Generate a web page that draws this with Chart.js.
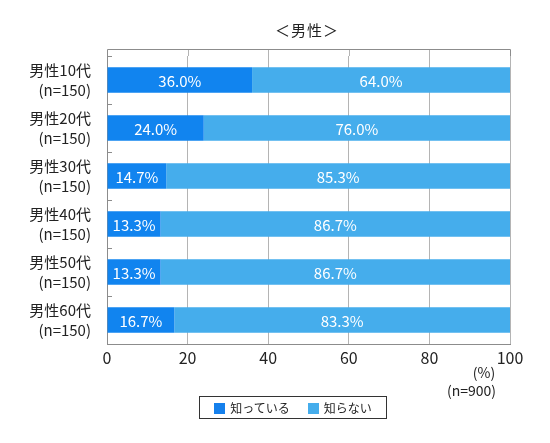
<!DOCTYPE html>
<html>
<head>
<meta charset="utf-8">
<script src="https://cdn.jsdelivr.net/npm/chart.js"></script>
<title>男性</title>
<style>
    body { margin: 0; background: #fff; font-family: "Noto Sans CJK JP", sans-serif; color: #222; }
    .wrap { position: relative; width: 550px; height: 443px; }
    .title { position: absolute; top: 19px; left: 0; width: 614px; text-align: center; font-size: 15px; letter-spacing: 1px; }
    .unit { position: absolute; top: 362px; left: 466px; width: 36px; text-align: center; font-size: 14px; }
    .base { position: absolute; top: 380px; right: 54px; font-size: 14px; }
    .legend { position: absolute; top: 396px; left: 199px; width: 186px; height: 21px; border: 1px solid #333;
              display: flex; justify-content: center; align-items: center; gap: 18px; font-size: 12px; }
    .legend span.sw { display: inline-block; width: 11px; height: 11px; margin-right: 5px; vertical-align: -1px; }
</style>
</head>
<body>
<div class="wrap">
    <canvas id="chart" width="550" height="443"></canvas>
    <div class="title">＜男性＞</div>
    <div class="unit">(%)</div>
    <div class="base">(n=900)</div>
    <div class="legend">
        <div><span class="sw" style="background:#1580ec"></span>知っている</div>
        <div><span class="sw" style="background:#45adec"></span>知らない</div>
    </div>
</div>

<script>
    // data
    var groups = ['男性10代', '男性20代', '男性30代', '男性40代', '男性50代', '男性60代'];
    var sampleSizes = ['(n=150)', '(n=150)', '(n=150)', '(n=150)', '(n=150)', '(n=150)'];
    var know = [36.0, 24.0, 14.7, 13.3, 13.3, 16.7];
    var dontKnow = [64.0, 76.0, 85.3, 86.7, 86.7, 83.3];
    var xTicks = [0, 20, 40, 60, 80, 100];

    var labels = groups.map(function (g, i) { return [g, sampleSizes[i]]; });

    // white % labels in the middle of each segment, plus frame extension and inner y ticks
    var decor = {
        id: 'decor',
        beforeDatasetsDraw: function (chart) {
            var ctx = chart.ctx, a = chart.chartArea, x = chart.scales.x, y = chart.scales.y;
            var top = a.top - 7;
            ctx.save();
            ctx.strokeStyle = '#b4b4b4';
            ctx.lineWidth = 1;
            [20, 40, 60, 80].forEach(function (v) {
                var px = Math.round(x.getPixelForValue(v)) + 0.5;
                ctx.beginPath(); ctx.moveTo(px, top); ctx.lineTo(px, a.top); ctx.stroke();
            });
            ctx.strokeStyle = '#8c8c8c';
            ctx.beginPath();
            ctx.moveTo(Math.round(a.left) + 0.5, a.top);
            ctx.lineTo(Math.round(a.left) + 0.5, top + 0.5);
            ctx.lineTo(Math.round(a.right) + 0.5, top + 0.5);
            ctx.lineTo(Math.round(a.right) + 0.5, a.top);
            ctx.stroke();
            for (var i = 0; i <= groups.length; i++) {
                var py = Math.round(y.getPixelForValue(i - 0.5)) + 0.5;
                ctx.beginPath(); ctx.moveTo(a.left, py); ctx.lineTo(a.left + 5, py); ctx.stroke();
            }
            ctx.restore();
        },
        afterDatasetsDraw: function (chart) {
            var ctx = chart.ctx;
            ctx.save();
            ctx.fillStyle = '#fff';
            ctx.font = '15px "Noto Sans CJK JP"';
            ctx.textAlign = 'center';
            ctx.textBaseline = 'middle';
            chart.data.datasets.forEach(function (ds, di) {
                chart.getDatasetMeta(di).data.forEach(function (bar, i) {
                    var cx = (bar.x + bar.base) / 2;
                    ctx.fillText(ds.data[i].toFixed(1) + '%', cx, bar.y + 1);
                });
            });
            ctx.restore();
        }
    };

    var ctx = document.getElementById('chart').getContext('2d');
    var chart = new Chart(ctx, {
        type: 'bar',
        data: {
            labels: labels,
            datasets: [
                { label: '知っている', data: know, backgroundColor: '#1184ef', barPercentage: 0.53, categoryPercentage: 1 },
                { label: '知らない', data: dontKnow, backgroundColor: '#45adec', barPercentage: 0.53, categoryPercentage: 1 }
            ]
        },
        options: {
            indexAxis: 'y',
            responsive: false,
            animation: false,
            layout: { padding: { top: 56, right: 40, bottom: 79, left: 0 } },
            plugins: { legend: { display: false }, tooltip: { enabled: false } },
            scales: {
                x: {
                    stacked: true,
                    min: 0,
                    max: 100,
                    afterBuildTicks: function (s) { s.ticks = xTicks.map(function (v) { return { value: v }; }); },
                    afterFit: function (s) { s.height = 20; },
                    grid: { color: '#b4b4b4', drawTicks: false },
                    border: { color: '#8c8c8c' },
                    ticks: { color: '#222', padding: 4, font: { family: 'Noto Sans CJK JP', size: 16 } }
                },
                y: {
                    stacked: true,
                    afterFit: function (s) { s.width = 107; },
                    grid: { display: false },
                    border: { color: '#8c8c8c' },
                    ticks: { color: '#222', padding: 8, font: { family: 'Noto Sans CJK JP', size: 15, lineHeight: 1.35 } }
                }
            }
        },
        plugins: [decor]
    });
</script>
</body>
</html>
